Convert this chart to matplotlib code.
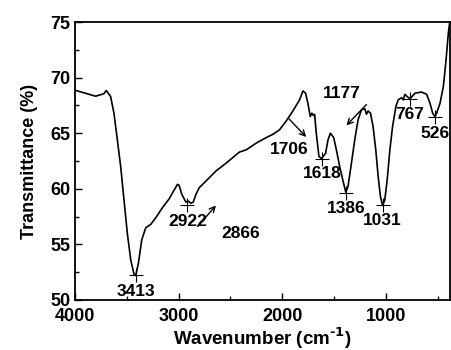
import matplotlib
matplotlib.use("Agg")
import matplotlib.pyplot as plt
from matplotlib.ticker import MultipleLocator

plt.rcParams['font.family'] = ['Liberation Sans', 'DejaVu Sans']
plt.rcParams['font.weight'] = 'bold'
plt.rcParams['mathtext.default'] = 'bf'

wavenumber = [4000, 3800, 3720, 3697, 3655, 3623, 3590, 3558, 3526, 3494, 3461, 3429, 3413,
              3387, 3355, 3316, 3268, 3219, 3155, 3090, 3042, 3010, 2994, 2968, 2929, 2906,
              2881, 2858, 2832, 2800, 2735, 2639, 2542, 2413, 2348, 2252, 2155, 2090, 2026,
              1961, 1897, 1832, 1800, 1774, 1752, 1729, 1713, 1700, 1687, 1671, 1645, 1618,
              1606, 1581, 1558, 1535, 1503, 1477, 1445, 1413, 1386, 1365, 1332, 1300, 1268,
              1235, 1203, 1187, 1171, 1148, 1123, 1097, 1074, 1052, 1031, 1010, 987, 961,
              935, 903, 881, 848, 832, 816, 794, 767, 719, 655, 606, 574, 548, 526, 510,
              477, 445, 419, 397, 381]
transmittance = [68.87, 68.33, 68.55, 68.84, 68.3, 66.8, 64.4, 62.0, 59.0, 56.0, 53.6, 52.3, 52.2,
                 53.3, 55.4, 56.5, 56.8, 57.4, 58.3, 59.1, 59.9, 60.4, 60.3, 59.5, 58.8, 58.9,
                 58.7, 58.8, 59.5, 60.1, 60.7, 61.6, 62.3, 63.3, 63.5, 64.1, 64.6, 64.9, 65.3,
                 66.1, 67.0, 68.0, 68.8, 68.6, 67.7, 66.5, 66.8, 66.6, 66.7, 65.0, 62.9, 62.7,
                 62.9, 63.2, 64.4, 65.0, 64.6, 63.5, 62.0, 60.7, 59.7, 60.2, 62.3, 64.4, 66.2,
                 67.1, 67.2, 66.7, 67.0, 66.8, 65.6, 63.5, 61.1, 59.3, 58.5, 59.0, 60.8, 63.5,
                 65.6, 67.4, 68.0, 68.2, 68.0, 68.5, 68.3, 68.1, 68.6, 68.7, 68.5, 67.7, 66.8,
                 66.5, 66.8, 67.7, 69.2, 71.6, 74.0, 75.2]

peak_wn = [3413, 2922, 1618, 1386, 1031, 767, 526]
peak_t = [52.2, 58.5, 62.7, 59.6, 58.5, 68.1, 66.5]

labels = ["3413", "2922", "2866", "1706", "1618", "1386", "1031", "1177", "767", "526"]
label_x = [3406, 2913, 2397, 1935, 1613, 1381, 1032, 1423, 768, 526]
label_y = [50.75, 57.06, 56.0, 63.5, 61.35, 58.2, 57.15, 68.54, 66.7, 65.0]

arrows = [((2816, 56.6), (2639, 58.5)),
          ((1935, 66.3), (1768, 64.66)),
          ((1187, 67.58), (1381, 65.7))]

fig = plt.figure(figsize=(4.51, 3.5), dpi=100)
ax = fig.add_axes([0.166, 0.143, 0.832, 0.794])
ax.plot(wavenumber, transmittance, color='black', lw=1.2)
ax.plot(peak_wn, peak_t, linestyle='none', marker='+', color='black', ms=10, mew=0.8)

for lab, x, y in zip(labels, label_x, label_y):
    ax.text(x, y, lab, ha='center', va='center', fontsize=12.5, fontweight='bold')

for (x0, y0), (x1, y1) in arrows:
    ax.annotate('', xy=(x1, y1), xytext=(x0, y0),
                arrowprops=dict(arrowstyle='->', color='black', lw=1.0, shrinkA=0, shrinkB=0))

ax.set_xlim(4000, 380)
ax.set_ylim(50, 75)
ax.xaxis.set_major_locator(MultipleLocator(1000))
ax.xaxis.set_minor_locator(MultipleLocator(500))
ax.yaxis.set_major_locator(MultipleLocator(5))
ax.yaxis.set_minor_locator(MultipleLocator(2.5))
ax.tick_params(which='both', direction='in', labelsize=13, width=1.0)
ax.tick_params(axis='x', pad=6)
ax.tick_params(axis='y', pad=3)
ax.tick_params(which='major', length=5)
ax.tick_params(which='minor', length=3)
for lbl in ax.get_xticklabels() + ax.get_yticklabels():
    lbl.set_fontweight('bold')
for s in ax.spines.values():
    s.set_linewidth(1.3)

ax.set_xlabel('Wavenumber (cm$^{\\mathbf{\\text{-}1}}$)', fontsize=13.5, fontweight='bold', labelpad=0)
ax.set_ylabel('Transmittance (%)', fontsize=13, fontweight='bold', labelpad=9)

fig.savefig('out.png', dpi=100)
